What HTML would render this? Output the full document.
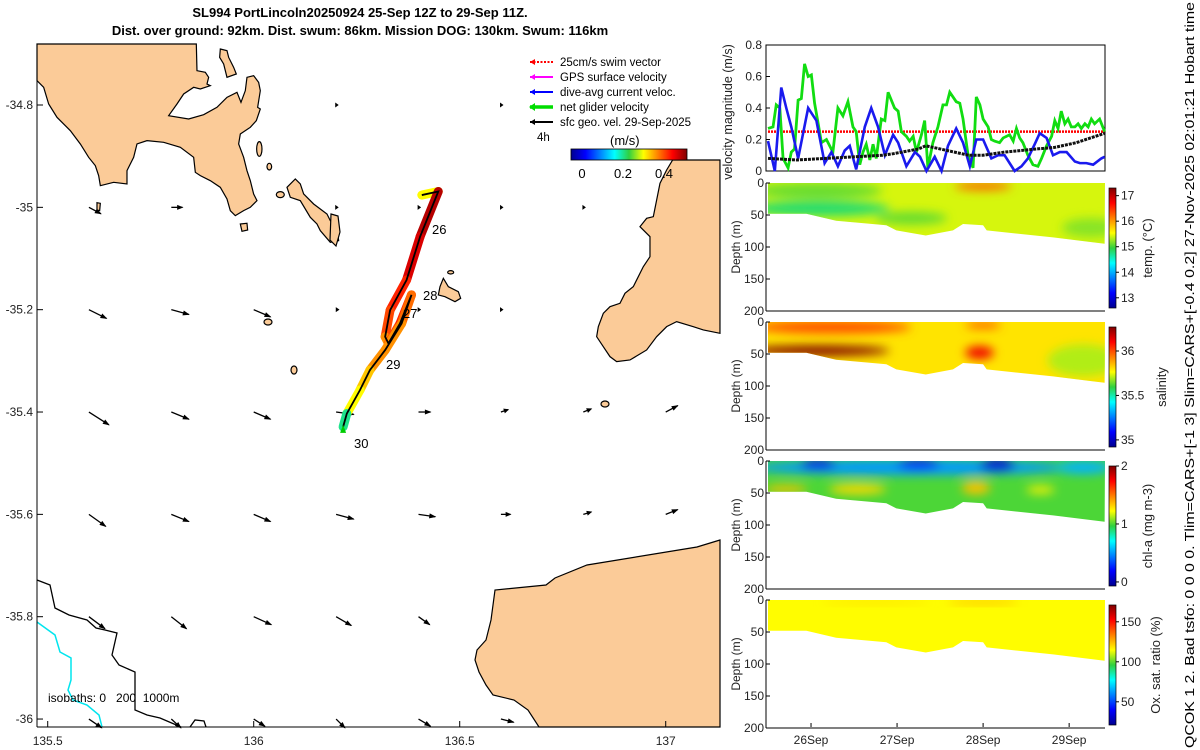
<!DOCTYPE html>
<html><head><meta charset="utf-8"><style>
body{margin:0;background:#fff}
svg{display:block;font-family:"Liberation Sans",sans-serif}
</style></head><body>
<svg id="fig" width="1200" height="750" viewBox="0 0 1200 750" xmlns="http://www.w3.org/2000/svg">
<defs>
<filter id="blur" x="-50%" y="-50%" width="200%" height="200%"><feGaussianBlur stdDeviation="5"/></filter>
<linearGradient id="jetH" x1="0" x2="1" y1="0" y2="0">
<stop offset="0" stop-color="#00008f"/><stop offset="0.125" stop-color="#0000ff"/><stop offset="0.375" stop-color="#00ffff"/><stop offset="0.5" stop-color="#30d040"/><stop offset="0.625" stop-color="#ffff00"/><stop offset="0.875" stop-color="#ff0000"/><stop offset="1" stop-color="#800000"/></linearGradient>
<linearGradient id="jetV" x1="0" x2="0" y1="1" y2="0">
<stop offset="0" stop-color="#00008f"/><stop offset="0.125" stop-color="#0000ff"/><stop offset="0.375" stop-color="#00ffff"/><stop offset="0.5" stop-color="#30d040"/><stop offset="0.625" stop-color="#ffff00"/><stop offset="0.875" stop-color="#ff0000"/><stop offset="1" stop-color="#800000"/></linearGradient>
</defs>

<g font-weight="bold" font-size="13" text-anchor="middle">
<text x="360" y="17">SL994 PortLincoln20250924 25-Sep 12Z to 29-Sep 11Z.</text>
<text x="360" y="35">Dist. over ground: 92km. Dist. swum: 86km. Mission DOG: 130km. Swum: 116km</text>
</g>

<g id="map">
<g fill="#fbcb98" stroke="#000" stroke-width="1.2">
<g transform="translate(37,44) scale(0.3333)" stroke-width="3.6">
<path d="M0,0 L478,0 L480,80 L505,85 L515,100 L510,120 L520,125 L490,135 L470,130 L440,150 L420,180 L395,215 L455,225 L500,212 L540,190 L570,160 L600,145 L612,175 L625,140 L630,100 L650,95 L665,115 L670,140 L662,190 L670,195 L658,230 L640,250 L610,270 L605,300 L620,340 L630,380 L640,410 L650,450 L660,470 L640,490 L620,500 L595,515 L580,500 L570,465 L550,430 L520,410 L490,395 L475,385 L470,340 L430,310 L380,295 L330,290 L300,300 L290,340 L270,380 L270,420 L230,415 L190,425 L185,395 L175,365 L155,340 L130,300 L100,260 L60,220 L35,180 L20,130 L0,110 Z"/>
<path d="M550,15 L570,20 L575,40 L590,70 L598,90 L570,100 L560,60 L548,40 Z"/>
<path d="M750,430 L775,405 L790,420 L800,450 L830,480 L870,510 L880,530 L900,550 L905,590 L880,595 L850,560 L840,540 L820,520 L790,470 L760,460 Z"/>
<ellipse cx="667" cy="315" rx="8" ry="22"/><ellipse cx="697" cy="368" rx="7" ry="10"/><ellipse cx="730" cy="452" rx="12" ry="9"/>
<path d="M610,540 L630,538 L632,558 L615,562 Z"/><path d="M180,476 L190,478 L188,500 L180,498 Z"/>
</g>
<g transform="translate(430,140) scale(0.3333)" stroke-width="3.6">
<path d="M728,60 L870,60 L870,580 L820,570 L790,560 L740,545 L710,560 L680,590 L650,630 L600,660 L560,665 L540,650 L520,620 L500,590 L505,560 L520,520 L540,500 L570,490 L585,460 L610,440 L640,380 L660,350 L660,290 L630,260 L650,235 L670,230 L680,180 L690,130 L710,90 Z"/>
<path d="M40,415 L55,440 L85,455 L92,475 L75,485 L45,470 L25,465 L30,440 Z"/>
<ellipse cx="62" cy="397" rx="9" ry="5"/>
</g>
<path d="M331,214 L338,216 L340,232 L336,246 L330,240 Z"/>
<ellipse cx="268" cy="322" rx="4" ry="3"/><ellipse cx="294" cy="370" rx="3" ry="4"/><ellipse cx="605" cy="404" rx="4" ry="3"/>
<path d="M720,540 L697,547 L587,565 L555,578 L546,585 L495,590 L491,620 L486,640 L477,650 L475,660 L479,672 L486,685 L493,695 L514,700 L528,710 L539,727 L720,727 Z"/>
</g>
<polyline fill="none" stroke="#000" stroke-width="1.3" points="37,580 50,585 55,608 69,615 87,620 96,628 105,630 117,633 112,655 119,665 135,672 135,710 147,715 160,718 181,727"/>
<polyline fill="none" stroke="#000" stroke-width="1.3" points="190,727 195,720 204,721 206,727"/>
<polyline fill="none" stroke="#00e5ee" stroke-width="1.5" points="37,622 55,635 60,652 71,658 71,680 68,690 73,700 87,705 99,715 102,727"/>
<g id="arrows"></g>
<g id="track"></g>
<g font-size="13">
<text x="432" y="234">26</text><text x="403" y="318">27</text><text x="423" y="300">28</text><text x="386" y="369">29</text><text x="354" y="448">30</text>
</g>
<text x="48" y="702" font-size="12" style="white-space:pre">isobaths: 0   200  1000m</text>
<g stroke="#000" stroke-width="1">
<line x1="37" y1="44" x2="37" y2="727"/><line x1="37" y1="727" x2="720" y2="727"/>
</g>
<g id="mapticks" font-size="12" fill="#222"></g>
<g font-size="11.5">
<g><line x1="530" y1="62" x2="553" y2="62" stroke="#f00" stroke-width="2" stroke-dasharray="2,1.5"/><path d="M530,62 l5,-3 v6z" fill="#f00"/><text x="560" y="66">25cm/s swim vector</text></g>
<g><line x1="530" y1="77" x2="553" y2="77" stroke="#f0f" stroke-width="2"/><path d="M530,77 l5,-3 v6z" fill="#f0f"/><text x="560" y="81">GPS surface velocity</text></g>
<g><line x1="530" y1="92" x2="553" y2="92" stroke="#00f" stroke-width="2"/><path d="M530,92 l5,-3 v6z" fill="#00f"/><text x="560" y="96">dive-avg current veloc.</text></g>
<g><line x1="530" y1="107" x2="553" y2="107" stroke="#0d0" stroke-width="3.5"/><path d="M529,107 l6,-4 v8z" fill="#0d0"/><text x="560" y="111">net glider velocity</text></g>
<g><line x1="530" y1="122" x2="553" y2="122" stroke="#000" stroke-width="2"/><path d="M530,122 l5,-3 v6z" fill="#000"/><text x="560" y="126">sfc geo. vel. 29-Sep-2025</text></g>
<text x="537" y="141">4h</text>
<text x="610" y="145" font-size="13">(m/s)</text>
<rect x="571" y="149" width="116" height="11" fill="url(#jetH)" stroke="#000" stroke-width="0.8"/>
<text x="582" y="178" text-anchor="middle" font-size="13">0</text><text x="623" y="178" text-anchor="middle" font-size="13">0.2</text><text x="664" y="178" text-anchor="middle" font-size="13">0.4</text>
</g>
</g>

<g id="vel"></g>
<g id="sections"></g>

<text transform="translate(1194,748) rotate(-90)" font-size="12.5" textLength="746" lengthAdjust="spacingAndGlyphs">QCOK 1 2. Bad tsfo: 0 0 0 0. Tlim=CARS+[-1 3] Slim=CARS+[-0.4 0.2] 27-Nov-2025 02:01:21 Hobart time</text>
</svg>
<script>
// ---------- data ----------
const gH=[0,1.4,2.3,3.3,4.2,5.6,6.5,7.4,8.4,9.3,10.2,11.2,12.1,13.0,14.0,14.9,16.3,18.1,19.5,20.9,22.3,23.7,24.6,25.6,26.5,27.4,28.4,29.3,30.2,31.6,32.6,33.5,34.4,35.3,36.3,37.2,38.6,39.5,40.5,41.4,42.8,43.7,44.6,46.0,47.4,48.8,49.8,50.7,51.6,52.5,53.5,54.4,55.8,57.2,58.1,59.1,60.0,61.4,62.3,63.2,64.6,65.6,66.5,67.4,68.4,69.3,70.2,71.1,72.5,73.9,75.3,76.3,77.7,79.1,80.0,80.9,81.8,82.8,83.7,84.6,85.6,86.5,87.4,88.4,89.3,90.2,91.1,92.5,93.9];
const gV=[.27,.28,.42,.40,.08,.02,.12,.14,.45,.46,.68,.60,.61,.43,.30,.18,.20,.12,.40,.35,.44,.28,.25,.04,.12,.17,.07,.17,.08,.33,.32,.50,.45,.40,.38,.25,.22,.19,.22,.12,.23,.32,.02,.18,.28,.42,.42,.50,.47,.44,.43,.33,.10,.02,.47,.42,.33,.28,.20,.19,.18,.21,.22,.23,.19,.27,.21,.18,.10,.04,.03,.08,.16,.22,.32,.27,.38,.30,.33,.28,.28,.30,.27,.30,.28,.33,.30,.33,.25];
const bH=[0,1.9,3.7,5.1,6.5,8.4,11.2,13.5,15.8,17.7,19.5,21.4,22.8,24.6,27.0,28.8,30.7,32.6,34.9,36.3,38.6,41.0,42.4,44.2,46.5,48.4,50.2,52.5,54.4,56.3,58.1,60.0,62.3,64.2,66.0,68.8,70.7,72.5,74.4,75.8,77.7,79.5,81.4,83.3,85.6,87.0,88.8,90.7,93.0,93.9];
const bV=[.19,.0,.53,.40,.28,.08,.40,.32,.05,.12,.03,.13,.16,.01,.28,.40,.28,.10,.23,.18,.03,.12,.09,.0,.09,.0,.16,.27,.18,.03,.20,.20,.08,.10,.10,.0,.03,.08,.17,.24,.21,.10,.12,.12,.06,.05,.05,.04,.08,.09];
const kH=[0,8,16,24,32,35,42,44,50,56,60,66,75,80,86,94];
const kV=[.08,.07,.08,.09,.10,.11,.14,.16,.13,.10,.10,.12,.14,.15,.18,.24];
const swimSpeed=0.25;
const velTicks=[0,0.2,0.4,0.6,0.8];
const dayLabels=['26Sep','27Sep','28Sep','29Sep'];
const dayHours=[12,36,60,84];
const depthTicks=[0,50,100,150,200];
const botH=[0,10.7,19,33,35.8,44,51.6,54.4,60,61,79.5,93.9];
const botD=[48,48,59,66,74,82,74,64,66,74,85,95];
// blobs: [hourCenter, depthCenter, halfWidthHours, halfHeightM, value]
const tempBase=15.42;
const tempBlobs=[[14,40,20,12,14.8],[14,12,18,12,15.1],[40,55,10,10,15.1],[60,5,8,6,16.3],[90,70,8,15,15.2]];
const salBase=35.8;
const salBlobs=[[18,8,22,10,36.0],[14,45,20,8,36.27],[59,48,4,10,36.12],[60,5,5,5,36.0],[88,60,10,25,35.7]];
const chlBase=1.0;
const chlBlobs=[[40,10,45,12,0.5],[88,10,8,10,0.55],[14,5,5,8,0.15],[42,5,6,8,0.2],[64,6,5,10,0.1],[5,44,6,6,1.35],[25,44,8,8,1.3],[58,42,4,10,1.35],[76,45,4,6,1.25]];
const oxyBase=115;
const oxyBlobs=[[60,3,10,4,124],[30,3,15,3,120]];
const trackLon=[136.408,136.448,136.404,136.371,136.331,136.319,136.327,136.355,136.383,136.359,136.319,136.282,136.258,136.226,136.217];
const trackLat=[-34.976,-34.969,-35.057,-35.142,-35.201,-35.253,-35.266,-35.227,-35.171,-35.227,-35.279,-35.318,-35.357,-35.403,-35.429];
const trackSpd=[0.3,0.48,0.46,0.42,0.4,0.36,0.4,0.42,0.38,0.36,0.36,0.33,0.3,0.2];
const arrLon=[135.6,135.8,136.2,136.6,136.2,136.4,136.6,136.8,135.6,135.8,136.0,136.2,136.4,136.6,135.6,135.8,136.0,136.2,136.4,136.6,136.8,137.0,135.6,135.8,136.0,136.2,136.4,136.6,136.8,137.0,135.6,135.8,136.0,136.2,136.4,135.6,135.8,136.0,136.2,136.4,136.6];
const arrLat=[-35.0,-35.0,-34.8,-34.8,-35.0,-35.0,-35.0,-35.0,-35.2,-35.2,-35.2,-35.2,-35.2,-35.2,-35.4,-35.4,-35.4,-35.4,-35.4,-35.4,-35.4,-35.4,-35.6,-35.6,-35.6,-35.6,-35.6,-35.6,-35.6,-35.6,-35.8,-35.8,-35.8,-35.8,-35.8,-36.0,-36.0,-36.0,-36.0,-36.0,-36.0];
const arrU=[.15,.14,.02,.02,.02,.02,.02,.02,.22,.22,.21,.03,.02,.02,.25,.22,.21,.22,.15,.09,.10,.15,.21,.22,.21,.22,.21,.12,.10,.15,.20,.19,.22,.19,.14,.16,.12,.14,.11,.15,.16];
const arrV=[-.08,0,0,0,0,0,0,0,-.11,-.06,-.09,0,0,0,-.16,-.09,-.09,-.03,0,.03,.04,.08,-.15,-.09,-.09,-.06,-.03,0,.03,.06,-.15,-.15,-.10,-.11,-.10,-.11,-.11,-.09,-.11,-.09,-.04];
const mapLonTicks=[135.5,136,136.5,137];
const mapLatTicks=[-34.8,-35,-35.2,-35.4,-35.6,-35.8,-36];

// ---------- helpers ----------
const NS='http://www.w3.org/2000/svg';
function mk(tag,attrs,parent){const e=document.createElementNS(NS,tag);for(const k in attrs)e.setAttribute(k,attrs[k]);parent.appendChild(e);return e;}
function jet(t){t=Math.max(0,Math.min(1,t));
 const st=[[0,0,0,143],[0.125,0,0,255],[0.375,0,255,255],[0.5,48,208,64],[0.625,255,255,0],[0.875,255,0,0],[1,128,0,0]];
 for(let i=0;i<st.length-1;i++){if(t<=st[i+1][0]){const f=(t-st[i][0])/(st[i+1][0]-st[i][0]);
  return `rgb(${Math.round(st[i][1]+f*(st[i+1][1]-st[i][1]))},${Math.round(st[i][2]+f*(st[i+1][2]-st[i][2]))},${Math.round(st[i][3]+f*(st[i+1][3]-st[i][3]))})`;}}
 return 'rgb(128,0,0)';}
const MX=lon=>37+(lon-135.474)*412;
const MY=lat=>105+(-34.8-lat)*511.7;
const TX=h=>768+h*3.585;

// ---------- map ----------
const mt=document.getElementById('mapticks');
mapLonTicks.forEach(v=>{const x=MX(v);
 const l=mk('line',{x1:x,y1:727,x2:x,y2:721,stroke:'#000'},mt);
 
 const t=mk('text',{x:x,y:745,'text-anchor':'middle'},mt);t.textContent=String(v);
 });
mapLatTicks.forEach(v=>{const y=MY(v);
 const l=mk('line',{x1:37,y1:y,x2:43,y2:y,stroke:'#000'},mt);
 
 const t=mk('text',{x:33,y:y+4,'text-anchor':'end'},mt);t.textContent=String(v);
 });

const ag=document.getElementById('arrows');
arrLon.forEach((lon,i)=>{const x=MX(lon),y=MY(arrLat[i]);const dx=arrU[i]*80,dy=-arrV[i]*80;
 const g=mk('g',{},ag);
 
 mk('line',{x1:x,y1:y,x2:x+dx,y2:y+dy,stroke:'#000','stroke-width':1.3},g);
 const L=Math.hypot(dx,dy)||1,ux=dx/L,uy=dy/L,hx=x+dx,hy=y+dy,s=Math.min(6,2+L*0.3);
 mk('path',{d:`M${hx+ux*1},${hy+uy*1} L${hx-ux*s-uy*2.5},${hy-uy*s+ux*2.5} L${hx-ux*s+uy*2.5},${hy-uy*s-ux*2.5}Z`,fill:'#000'},g);});

const tg=document.getElementById('track');
for(let i=0;i<trackSpd.length;i++){
 const s=mk('line',{x1:MX(trackLon[i]),y1:MY(trackLat[i]),x2:MX(trackLon[i+1]),y2:MY(trackLat[i+1]),stroke:jet((trackSpd[i]+0.054)/0.564),'stroke-width':9,'stroke-linecap':'round'},tg);
 }
const tl=mk('polyline',{points:trackLon.map((l,i)=>MX(l)+','+MY(trackLat[i])).join(' '),fill:'none',stroke:'#000','stroke-width':1.8},tg);

const endp=mk('path',{d:`M${MX(trackLon[14])-3},${MY(trackLat[14])+6} l3,-8 l3,8z`,fill:'#0c0'},tg);


// ---------- velocity panel ----------
const vg=document.getElementById('vel');
const VY=v=>171-v*157.5;
const vb=mk('rect',{x:766,y:45,width:339,height:126,fill:'none',stroke:'#000'},vg);

velTicks.forEach(v=>{const t=mk('text',{x:762,y:VY(v)+4,'text-anchor':'end','font-size':12,fill:'#222'},vg);t.textContent=String(v);
 
 mk('line',{x1:766,y1:VY(v),x2:770,y2:VY(v),stroke:'#000'},vg);});
const vyl=mk('text',{transform:'translate(732,112) rotate(-90)','text-anchor':'middle','font-size':12.5,fill:'#222'},vg);
vyl.textContent='velocity magnitude (m/s)';
const sw=mk('line',{x1:TX(0),y1:VY(swimSpeed),x2:TX(94),y2:VY(swimSpeed),stroke:'#f00','stroke-width':2.5,'stroke-dasharray':'2,1'},vg);

const gl=mk('polyline',{points:gH.map((h,i)=>TX(h)+','+VY(gV[i])).join(' '),fill:'none',stroke:'#11dd11','stroke-width':2.8},vg);

const bl=mk('polyline',{points:bH.map((h,i)=>TX(h)+','+VY(bV[i])).join(' '),fill:'none',stroke:'#1a1aee','stroke-width':2.6},vg);

const kl=mk('polyline',{points:kH.map((h,i)=>TX(h)+','+VY(kV[i])).join(' '),fill:'none',stroke:'#111','stroke-width':3,'stroke-dasharray':'3,1'},vg);


// ---------- sections ----------
const panels=[
 {name:'temperature',top:183,base:tempBase,blobs:tempBlobs,lo:12.6,hi:17.3,ticks:[13,14,15,16,17],label:'temp. (°C)',lx:1152},
 {name:'salinity',top:322,base:salBase,blobs:salBlobs,lo:34.92,hi:36.27,ticks:[35,35.5,36],label:'salinity',lx:1166},
 {name:'chlorophyll',top:461,base:chlBase,blobs:chlBlobs,lo:-0.07,hi:2.0,ticks:[0,1,2],label:'chl-a (mg m-3)',lx:1152},
 {name:'oxygen',top:600,base:oxyBase,blobs:oxyBlobs,lo:21,hi:171,ticks:[50,100,150],label:'Ox. sat. ratio (%)',lx:1160}];
const sg=document.getElementById('sections');
panels.forEach((p,pi)=>{
 const g=mk('g',{},sg);
 
 const DY=d=>p.top+d*0.64;const col=v=>jet((v-p.lo)/(p.hi-p.lo));
 const cp=mk('clipPath',{id:'clip'+pi},g);
 const pts=[TX(0)+','+DY(0),TX(94)+','+DY(0)].concat(botH.slice().reverse().map((h,i)=>TX(h)+','+DY(botD[botD.length-1-i])));
 mk('polygon',{points:pts.join(' ')},cp);
 const fg=mk('g',{'clip-path':`url(#clip${pi})`},g);
 const bg=mk('rect',{x:760,y:p.top-5,width:350,height:80,fill:col(p.base)},fg);
 
 const bgg=mk('g',{filter:'url(#blur)'},fg);
 p.blobs.forEach(b=>{const e=mk('ellipse',{cx:TX(b[0]),cy:DY(b[1]),rx:b[2]*3.585,ry:b[3]*0.64,fill:col(b[4])},bgg);
  });
 mk('line',{x1:766,y1:p.top,x2:766,y2:DY(200),stroke:'#000'},g);
 mk('line',{x1:766,y1:DY(200),x2:1105,y2:DY(200),stroke:'#000'},g);
 depthTicks.forEach(d=>{const t=mk('text',{x:764,y:DY(d)+4,'text-anchor':'end','font-size':12,fill:'#222'},g);t.textContent=String(d);
  
  mk('line',{x1:766,y1:DY(d),x2:770,y2:DY(d),stroke:'#000'},g);});
 const yl=mk('text',{transform:`translate(740,${DY(100)}) rotate(-90)`,'text-anchor':'middle','font-size':12,fill:'#222'},g);
 yl.textContent='Depth (m)';
 const cy0=p.top+5,cy1=DY(200)-3,CY=v=>cy1-(v-p.lo)/(p.hi-p.lo)*(cy1-cy0);
 const cb=mk('rect',{x:1109,y:cy0,width:7,height:cy1-cy0,fill:'url(#jetV)',stroke:'#000','stroke-width':0.7},g);
 
 p.ticks.forEach(v=>{mk('line',{x1:1116,y1:CY(v),x2:1119,y2:CY(v),stroke:'#000'},g);
  const t=mk('text',{x:1121,y:CY(v)+4,'font-size':12,fill:'#222'},g);t.textContent=String(v);
  });
 const cl=mk('text',{transform:`translate(${p.lx},${(cy0+cy1)/2}) rotate(-90)`,'text-anchor':'middle','font-size':13,fill:'#222'},g);
 cl.textContent=p.label;
});
dayLabels.forEach((d,i)=>{const x=TX(dayHours[i]);
 mk('line',{x1:x,y1:727,x2:x,y2:723,stroke:'#000'},sg);
 const t=mk('text',{x:x,y:744,'text-anchor':'middle','font-size':12,fill:'#222'},sg);t.textContent=d;
 });
</script>
</body></html>
